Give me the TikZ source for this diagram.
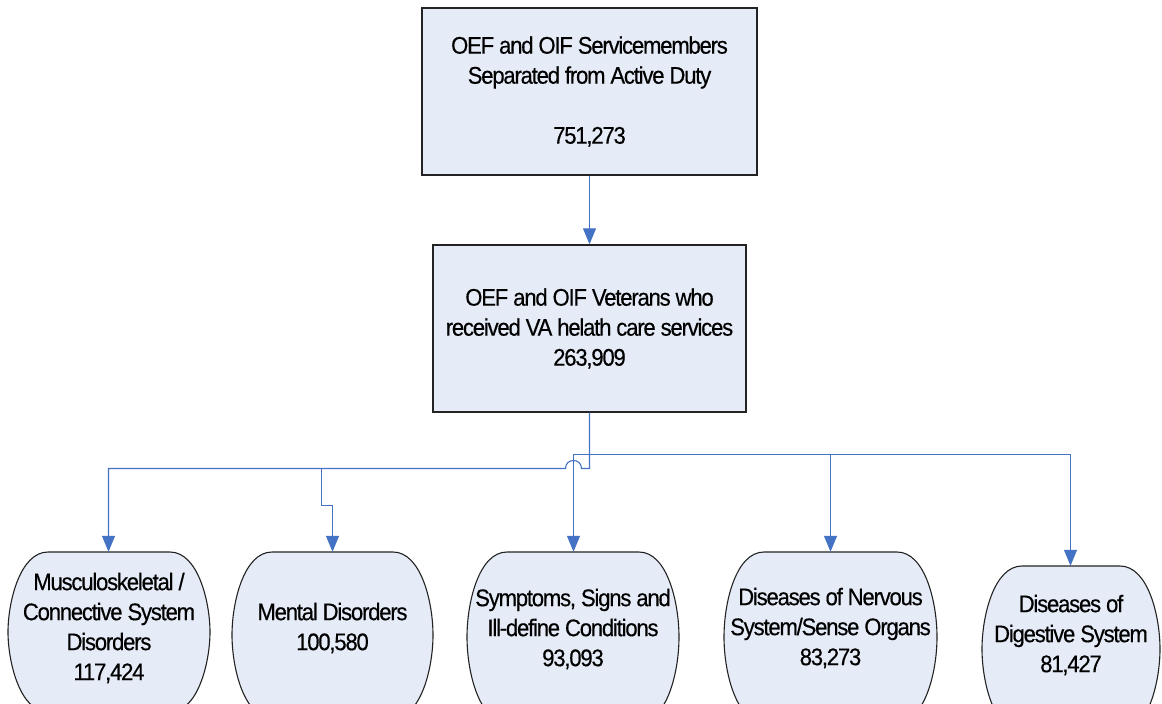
\documentclass[tikz,border=0pt]{standalone}
\usepackage{fontspec}
\setmainfont[FakeStretch=0.92,LetterSpace=-5,FakeBold=0.4]{Liberation Sans}
\usetikzlibrary{arrows.meta}
\definecolor{boxfill}{RGB}{230,236,247}
\definecolor{conblue}{RGB}{68,114,196}
\definecolor{edgegray}{RGB}{35,35,35}
\tikzset{
  topbox/.style={draw=edgegray, line width=1.4pt, fill=boxfill, inner sep=0pt, align=center},
  blob/.style={draw=edgegray, line width=1.1pt, fill=boxfill},
  anchorbox/.style={draw=none, inner sep=0pt},
  lbl/.style={inner sep=0pt, align=center, font={\fontsize{24}{30}\selectfont}},
  conn/.style={draw=conblue, line width=1.1pt},
  arr/.style={conn, -{Triangle[length=16pt,width=13pt]}}
}
% left, top, right, bottom
\newcommand{\roundblob}[4]{%
  \path[blob] (#1+40,#2) -- (#3-40,#2)
    .. controls (#3-12,#2) and (#3,#2+50) .. (#3,{(#2+#4)/2})
    .. controls (#3,#4-50) and (#3-12,#4) .. (#3-40,#4)
    -- (#1+40,#4)
    .. controls (#1+12,#4) and (#1,#4-50) .. (#1,{(#2+#4)/2})
    .. controls (#1,#2+50) and (#1+12,#2) .. cycle;}
\begin{document}
\begin{tikzpicture}[x=1pt,y=-1pt]
\useasboundingbox (0,0) rectangle (1162,704);
\clip (0,0) rectangle (1162,704);

% upper boxes
\node[topbox, minimum width=335pt, minimum height=167pt] (top) at (589.5,91.5) {};
\node[lbl] (toptext) at (589.5,91.5) {OEF and OIF Servicemembers\\Separated from Active Duty\\[30pt]751,273};
\node[topbox, minimum width=313pt, minimum height=167pt] (mid) at (589.5,328.5) {};
\node[lbl] (midtext) at (589.5,328.5) {OEF and OIF Veterans who\\received VA helath care services\\263,909};

% bottom rounded shapes
\roundblob{8}{552}{210}{712}
\roundblob{232}{552}{433}{718}
\roundblob{467}{552}{679}{722}
\roundblob{724}{552}{937}{722}
\roundblob{982}{566}{1160}{732}
\node[anchorbox, minimum width=202pt, minimum height=160pt] (s1) at (108.5,632) {};
\node[anchorbox, minimum width=201pt, minimum height=166pt] (s2) at (332.5,635) {};
\node[anchorbox, minimum width=212pt, minimum height=170pt] (s3) at (573.5,637) {};
\node[anchorbox, minimum width=213pt, minimum height=170pt] (s4) at (830.5,637) {};
\node[anchorbox, minimum width=178pt, minimum height=166pt] (s5) at (1070.5,649) {};

\node[lbl] (t1) at (109,628) {Musculoskeletal /\\Connective System\\Disorders\\117,424};
\node[lbl] (t2) at (332.5,628) {Mental Disorders\\100,580};
\node[lbl] (t3) at (573,629) {Symptoms, Signs and\\Ill-define Conditions\\93,093};
\node[lbl] (t4) at (830.5,628) {Diseases of Nervous\\System/Sense Organs\\83,273};
\node[lbl] (t5) at (1071,635) {Diseases of\\Digestive System\\81,427};

% junction points
\coordinate (jr) at (589.5,454.5);
\coordinate (jl) at (589.5,468.5);
\coordinate (jm) at (321.5,468.5);

% connectors
\draw[arr] (top.south) -- (mid.north);
\draw[arr] (mid.south) -- (jl) -- (581.5,468.5)
  .. controls (581.5,457.8) and (565.5,457.8) .. (565.5,468.5) -| (s1.north);
\draw[arr] (jm) -- (321.5,505.5) -| (s2.north);
\draw[arr] (mid.south) -- (jr) -| (s3.north);
\draw[arr] (jr) -| (s4.north);
\draw[arr] (jr) -| (s5.north);
\end{tikzpicture}
\end{document}
